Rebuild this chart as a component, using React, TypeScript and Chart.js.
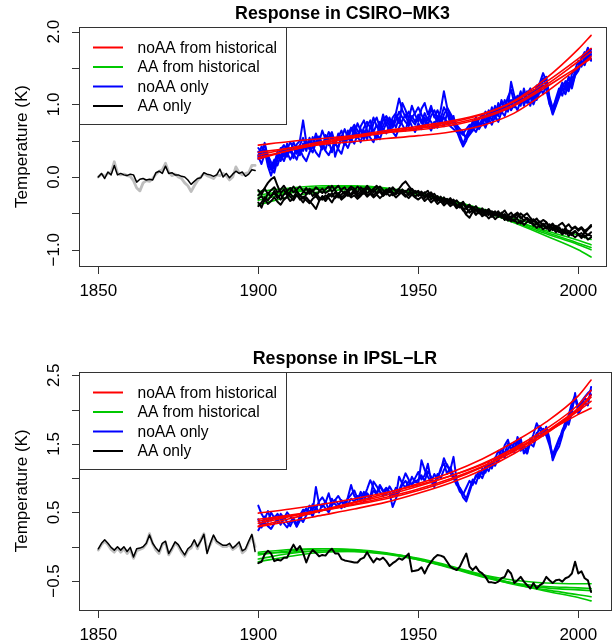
import React, { useEffect, useRef } from "react";
import { Chart, registerables } from "chart.js";
Chart.register(...registerables);

const FONT = "'Liberation Sans', Arial, Helvetica, sans-serif";
const MINUS = "\u2212";

const SMOOTH_YEARS = [1900, 1910, 1920, 1930, 1940, 1950, 1960, 1970, 1980, 1990, 2000, 2004];
const X_TICKS = [1850, 1900, 1950, 2000];
const PRE_START = 1850;
const MODERN_START = 1900;

const LEGEND_LABELS = ["noAA from historical", "AA from historical", "noAA only", "AA only"];
const RED = "#FF0000";
const GREEN = "#00C800";
const BLUE = "#0000FF";
const BLACK = "#000000";
const GRAY = "#BEBEBE";
const LEGEND_COLORS = [RED, GREEN, BLUE, BLACK];

// ---------------- Top panel: CSIRO-MK3 ----------------
const TOP_TITLE = "Response in CSIRO" + MINUS + "MK3";
const TOP_Y_TICKS = [-1, -0.5, 0, 0.5, 1, 1.5, 2];
const TOP_Y_LABELS = [-1, 0, 1, 2];

const TOP_PRE_BLACK = [0.00, 0.05, -0.02, 0.07, 0.03, 0.16, 0.03, 0.05, 0.03, 0.02,
  0.04, 0.03, -0.07, -0.03, -0.02, -0.04, -0.03, -0.04, 0.06, 0.08,
  0.05, 0.15, 0.05, 0.06, 0.03, 0.03, 0.01, 0.00, -0.04, -0.10,
  -0.06, -0.02, -0.01, 0.06, 0.04, 0.03, 0.01, 0.03, 0.11, 0.00,
  0.05, -0.01, 0.04, 0.08, 0.05, 0.07, 0.01, 0.04, 0.10, 0.09];
const TOP_PRE_GRAY = [0.00, 0.04, 0.01, 0.05, 0.06, 0.21, 0.05, 0.03, 0.04, 0.02,
  0.01, -0.05, -0.15, -0.19, -0.08, -0.05, -0.06, -0.02, 0.04, 0.08,
  0.10, 0.19, 0.07, 0.02, 0.04, 0.00, -0.02, -0.08, -0.12, -0.20,
  -0.12, -0.05, 0.00, 0.05, 0.02, 0.00, -0.02, 0.03, 0.02, 0.05,
  0.02, -0.04, 0.00, 0.14, 0.06, 0.03, 0.05, 0.06, 0.16, 0.16];

const TOP_RED_1 = [0.44, 0.49, 0.53, 0.57, 0.61, 0.65, 0.71, 0.81, 0.98, 1.24, 1.52, 1.63];
const TOP_RED_2 = [0.25, 0.37, 0.47, 0.55, 0.62, 0.68, 0.75, 0.86, 1.05, 1.36, 1.76, 1.95];
const TOP_RED_3 = [0.30, 0.40, 0.49, 0.57, 0.64, 0.70, 0.77, 0.87, 1.04, 1.31, 1.63, 1.77];
const TOP_RED_4 = [0.27, 0.37, 0.46, 0.54, 0.61, 0.67, 0.73, 0.83, 1.00, 1.27, 1.59, 1.72];
const TOP_RED_5 = [0.34, 0.40, 0.45, 0.49, 0.53, 0.57, 0.62, 0.71, 0.88, 1.17, 1.51, 1.66];

const TOP_GREEN_1 = [-0.20, -0.15, -0.12, -0.12, -0.15, -0.22, -0.32, -0.44, -0.57, -0.69, -0.80, -0.86];
const TOP_GREEN_2 = [-0.25, -0.18, -0.14, -0.13, -0.16, -0.23, -0.33, -0.46, -0.60, -0.74, -0.87, -0.93];
const TOP_GREEN_3 = [-0.28, -0.20, -0.15, -0.14, -0.17, -0.24, -0.34, -0.47, -0.62, -0.78, -0.93, -1.00];
const TOP_GREEN_4 = [-0.32, -0.22, -0.16, -0.14, -0.16, -0.22, -0.32, -0.46, -0.63, -0.81, -1.00, -1.10];
const TOP_GREEN_5 = [-0.38, -0.27, -0.20, -0.17, -0.18, -0.23, -0.32, -0.45, -0.60, -0.76, -0.91, -0.97];

const TOP_BLUE_1 = [0.30, 0.42, 0.36, 0.15, 0.02, 0.18, 0.35, 0.28, 0.40, 0.33,
  0.38, 0.26, 0.45, 0.50, 0.78, 0.48, 0.38, 0.55, 0.44, 0.52,
  0.40, 0.58, 0.50, 0.34, 0.47, 0.55, 0.64, 0.50, 0.58, 0.68,
  0.58, 0.74, 0.64, 0.54, 0.70, 0.78, 0.62, 0.72, 0.60, 0.70,
  0.80, 0.70, 0.82, 0.88, 1.08, 0.92, 0.82, 0.90, 0.78, 0.72,
  0.84, 0.74, 0.88, 0.78, 0.94, 0.84, 0.76, 0.92, 1.18, 0.96,
  0.88, 0.80, 0.70, 0.58, 0.46, 0.56, 0.68, 0.76, 0.68, 0.80,
  0.86, 0.76, 0.92, 0.84, 0.98, 0.88, 1.04, 0.93, 1.10, 1.20,
  1.02, 1.12, 0.98, 1.22, 1.06, 1.16, 1.03, 1.22, 1.30, 1.43,
  1.32, 1.05, 0.88, 1.00, 1.18, 1.30, 1.20, 1.38, 1.28, 1.46,
  1.52, 1.64, 1.72, 1.64, 1.76];
const TOP_BLUE_2 = [0.25, 0.34, 0.47, 0.26, 0.12, 0.06, 0.24, 0.40, 0.28, 0.46,
  0.34, 0.48, 0.38, 0.30, 0.46, 0.36, 0.54, 0.44, 0.60, 0.48,
  0.64, 0.52, 0.44, 0.60, 0.28, 0.42, 0.54, 0.66, 0.54, 0.48,
  0.64, 0.54, 0.70, 0.78, 0.64, 0.58, 0.74, 0.82, 0.68, 0.86,
  0.72, 0.82, 0.70, 0.86, 0.74, 1.02, 0.92, 0.80, 0.98, 0.86,
  0.76, 0.94, 1.02, 0.86, 0.98, 0.82, 0.92, 0.80, 0.96, 0.88,
  0.74, 0.84, 0.64, 0.52, 0.42, 0.50, 0.64, 0.72, 0.82, 0.72,
  0.80, 0.90, 0.80, 0.96, 0.84, 1.02, 0.90, 1.06, 0.96, 1.31,
  1.12, 1.04, 1.18, 0.98, 1.14, 1.22, 1.08, 1.26, 1.16, 1.34,
  1.38, 1.10, 0.95, 1.06, 1.14, 1.24, 1.32, 1.22, 1.42, 1.48,
  1.60, 1.52, 1.66, 1.78, 1.68];
const TOP_BLUE_3 = [0.35, 0.26, 0.38, 0.20, 0.10, 0.20, 0.30, 0.22, 0.36, 0.28,
  0.40, 0.30, 0.36, 0.44, 0.36, 0.50, 0.40, 0.34, 0.48, 0.56,
  0.46, 0.38, 0.55, 0.62, 0.46, 0.40, 0.57, 0.48, 0.64, 0.52,
  0.68, 0.56, 0.48, 0.64, 0.52, 0.70, 0.60, 0.52, 0.76, 0.64,
  0.74, 0.62, 0.78, 0.68, 0.82, 0.72, 0.64, 0.80, 0.70, 0.62,
  0.74, 0.66, 0.82, 0.72, 0.64, 0.76, 0.68, 0.82, 0.70, 0.88,
  0.80, 0.72, 0.66, 0.62, 0.60, 0.66, 0.72, 0.64, 0.78, 0.68,
  0.78, 0.70, 0.86, 0.78, 0.94, 0.84, 1.06, 0.96, 0.90, 1.06,
  0.96, 1.08, 1.14, 1.00, 1.10, 0.98, 1.16, 1.06, 1.18, 1.26,
  1.20, 1.00, 0.92, 1.08, 1.22, 1.12, 1.28, 1.36, 1.26, 1.40,
  1.46, 1.58, 1.60, 1.74, 1.62];
const TOP_BLUE_4 = [0.28, 0.18, 0.32, 0.24, 0.14, 0.24, 0.16, 0.30, 0.22, 0.34,
  0.24, 0.32, 0.24, 0.38, 0.28, 0.22, 0.34, 0.42, 0.34, 0.28,
  0.44, 0.36, 0.30, 0.40, 0.48, 0.38, 0.32, 0.48, 0.40, 0.52,
  0.46, 0.58, 0.66, 0.52, 0.62, 0.54, 0.48, 0.60, 0.52, 0.66,
  0.60, 0.70, 0.62, 0.56, 0.68, 0.78, 0.86, 0.72, 0.84, 0.76,
  0.86, 0.78, 0.70, 0.82, 0.76, 0.68, 0.84, 0.74, 0.82, 0.76,
  0.70, 0.66, 0.62, 0.62, 0.58, 0.56, 0.60, 0.68, 0.62, 0.72,
  0.76, 0.68, 0.80, 0.72, 0.84, 0.76, 0.90, 0.84, 1.00, 0.92,
  1.00, 0.92, 1.06, 1.14, 1.02, 1.10, 1.00, 1.12, 1.24, 1.14,
  1.28, 1.02, 0.86, 0.98, 1.10, 1.22, 1.14, 1.30, 1.22, 1.40,
  1.50, 1.58, 1.54, 1.68, 1.60];
const TOP_BLUE_5 = [0.40, 0.34, 0.44, 0.30, 0.20, 0.12, 0.28, 0.38, 0.44, 0.38,
  0.48, 0.40, 0.32, 0.44, 0.54, 0.40, 0.50, 0.42, 0.56, 0.46,
  0.38, 0.50, 0.62, 0.54, 0.44, 0.60, 0.52, 0.44, 0.54, 0.64,
  0.72, 0.64, 0.56, 0.68, 0.76, 0.68, 0.82, 0.70, 0.64, 0.78,
  0.84, 0.76, 0.68, 0.78, 0.90, 0.82, 0.76, 0.70, 0.82, 0.88,
  0.96, 0.86, 0.76, 0.72, 0.84, 0.92, 0.82, 0.74, 0.86, 0.94,
  0.84, 0.76, 0.72, 0.66, 0.62, 0.52, 0.58, 0.64, 0.74, 0.66,
  0.74, 0.84, 0.76, 0.90, 0.80, 0.96, 0.88, 0.98, 1.08, 1.00,
  1.10, 1.02, 1.12, 1.06, 1.18, 1.10, 1.20, 1.12, 1.28, 1.36,
  1.24, 1.08, 0.90, 1.04, 1.12, 1.20, 1.24, 1.18, 1.36, 1.42,
  1.48, 1.62, 1.68, 1.62, 1.72];

const TOP_BLACK_1 = [-0.18, -0.24, -0.15, -0.08, -0.03, 0.00, -0.12, -0.22, -0.17, -0.25,
  -0.20, -0.13, -0.19, -0.26, -0.21, -0.15, -0.23, -0.18, -0.27, -0.20,
  -0.16, -0.22, -0.19, -0.12, -0.18, -0.25, -0.17, -0.14, -0.21, -0.16,
  -0.19, -0.13, -0.18, -0.23, -0.15, -0.20, -0.16, -0.12, -0.19, -0.22,
  -0.17, -0.21, -0.14, -0.19, -0.16, -0.10, -0.06, -0.12, -0.18, -0.22,
  -0.19, -0.25, -0.21, -0.28, -0.24, -0.30, -0.26, -0.33, -0.29, -0.35,
  -0.31, -0.37, -0.40, -0.36, -0.43, -0.50, -0.45, -0.41, -0.47, -0.44,
  -0.49, -0.45, -0.52, -0.47, -0.53, -0.50, -0.56, -0.51, -0.58, -0.54,
  -0.52, -0.49, -0.55, -0.60, -0.57, -0.63, -0.59, -0.65, -0.61, -0.67,
  -0.63, -0.70, -0.66, -0.73, -0.69, -0.75, -0.70, -0.77, -0.72, -0.69,
  -0.74, -0.70, -0.77, -0.72, -0.68];
const TOP_BLACK_2 = [-0.30, -0.26, -0.33, -0.22, -0.27, -0.19, -0.25, -0.31, -0.24, -0.20,
  -0.27, -0.32, -0.25, -0.29, -0.35, -0.28, -0.33, -0.38, -0.44, -0.33,
  -0.26, -0.30, -0.23, -0.27, -0.21, -0.28, -0.24, -0.20, -0.26, -0.23,
  -0.18, -0.24, -0.20, -0.16, -0.22, -0.19, -0.25, -0.21, -0.17, -0.23,
  -0.20, -0.15, -0.21, -0.24, -0.18, -0.22, -0.19, -0.25, -0.21, -0.27,
  -0.24, -0.20, -0.27, -0.23, -0.31, -0.27, -0.33, -0.28, -0.36, -0.32,
  -0.37, -0.34, -0.41, -0.38, -0.45, -0.52, -0.56, -0.48, -0.44, -0.50,
  -0.46, -0.53, -0.49, -0.55, -0.51, -0.47, -0.54, -0.58, -0.52, -0.57,
  -0.61, -0.55, -0.50, -0.54, -0.59, -0.63, -0.58, -0.62, -0.68, -0.64,
  -0.69, -0.65, -0.71, -0.67, -0.74, -0.78, -0.72, -0.76, -0.80, -0.75,
  -0.78, -0.82, -0.76, -0.80, -0.76];
const TOP_BLACK_3 = [-0.40, -0.35, -0.28, -0.32, -0.26, -0.22, -0.29, -0.24, -0.31, -0.27,
  -0.23, -0.28, -0.20, -0.25, -0.30, -0.24, -0.19, -0.26, -0.22, -0.28,
  -0.31, -0.25, -0.29, -0.35, -0.27, -0.22, -0.28, -0.24, -0.19, -0.25,
  -0.21, -0.27, -0.23, -0.18, -0.25, -0.22, -0.17, -0.23, -0.20, -0.26,
  -0.22, -0.18, -0.25, -0.21, -0.17, -0.23, -0.27, -0.22, -0.16, -0.21,
  -0.26, -0.22, -0.29, -0.25, -0.21, -0.28, -0.32, -0.27, -0.34, -0.30,
  -0.35, -0.31, -0.38, -0.42, -0.36, -0.44, -0.40, -0.46, -0.52, -0.47,
  -0.43, -0.50, -0.46, -0.52, -0.58, -0.54, -0.49, -0.55, -0.60, -0.57,
  -0.53, -0.58, -0.64, -0.60, -0.56, -0.61, -0.67, -0.63, -0.69, -0.66,
  -0.71, -0.67, -0.73, -0.70, -0.76, -0.72, -0.78, -0.74, -0.79, -0.83,
  -0.79, -0.84, -0.80, -0.86, -0.83];
const TOP_BLACK_4 = [-0.25, -0.20, -0.16, -0.23, -0.18, -0.14, -0.21, -0.17, -0.12, -0.19,
  -0.15, -0.21, -0.17, -0.13, -0.19, -0.23, -0.16, -0.20, -0.14, -0.18,
  -0.22, -0.17, -0.13, -0.20, -0.16, -0.12, -0.19, -0.23, -0.17, -0.13,
  -0.16, -0.21, -0.14, -0.18, -0.12, -0.17, -0.21, -0.16, -0.13, -0.18,
  -0.24, -0.19, -0.15, -0.20, -0.23, -0.17, -0.21, -0.16, -0.24, -0.19,
  -0.21, -0.26, -0.22, -0.19, -0.27, -0.23, -0.29, -0.34, -0.28, -0.33,
  -0.29, -0.35, -0.32, -0.38, -0.34, -0.41, -0.38, -0.44, -0.40, -0.46,
  -0.52, -0.48, -0.44, -0.50, -0.47, -0.54, -0.50, -0.46, -0.53, -0.49,
  -0.55, -0.51, -0.57, -0.53, -0.50, -0.56, -0.61, -0.57, -0.63, -0.59,
  -0.62, -0.68, -0.64, -0.70, -0.66, -0.63, -0.69, -0.65, -0.71, -0.68,
  -0.72, -0.69, -0.74, -0.71, -0.66];
const TOP_BLACK_5 = [-0.35, -0.42, -0.30, -0.37, -0.33, -0.28, -0.34, -0.38, -0.31, -0.27,
  -0.33, -0.29, -0.24, -0.31, -0.27, -0.32, -0.36, -0.30, -0.26, -0.32,
  -0.28, -0.33, -0.27, -0.22, -0.29, -0.25, -0.31, -0.27, -0.23, -0.28,
  -0.25, -0.30, -0.26, -0.21, -0.27, -0.23, -0.28, -0.24, -0.29, -0.25,
  -0.21, -0.26, -0.23, -0.28, -0.24, -0.20, -0.25, -0.29, -0.24, -0.28,
  -0.31, -0.27, -0.33, -0.29, -0.35, -0.31, -0.37, -0.33, -0.39, -0.35,
  -0.40, -0.37, -0.43, -0.39, -0.46, -0.42, -0.49, -0.45, -0.51, -0.48,
  -0.54, -0.51, -0.57, -0.53, -0.49, -0.55, -0.52, -0.59, -0.55, -0.61,
  -0.58, -0.64, -0.60, -0.66, -0.62, -0.58, -0.65, -0.70, -0.66, -0.72,
  -0.68, -0.74, -0.70, -0.76, -0.73, -0.79, -0.75, -0.81, -0.77, -0.74,
  -0.80, -0.77, -0.83, -0.79, -0.81];

// ---------------- Bottom panel: IPSL-LR ----------------
const BOT_TITLE = "Response in IPSL" + MINUS + "LR";
const BOT_Y_TICKS = [-0.5, 0, 0.5, 1, 1.5, 2, 2.5];
const BOT_Y_LABELS = [-0.5, 0.5, 1.5, 2.5];

const BOT_PRE_BLACK = [-0.03, 0.05, 0.10, 0.05, -0.01, -0.05, 0.00, -0.05, 0.00, -0.07,
  -0.01, -0.15, -0.03, -0.02, 0.00, 0.05, 0.17, 0.05, -0.02, -0.07,
  0.05, 0.08, -0.10, -0.02, 0.07, 0.03, -0.05, -0.12, -0.03, 0.01,
  0.10, 0.00, 0.08, 0.18, -0.10, 0.05, 0.17, 0.08, 0.05, 0.02,
  0.02, 0.05, -0.02, 0.02, 0.07, -0.06, -0.03, 0.08, 0.18, -0.07];
const BOT_PRE_GRAY = [-0.05, 0.03, 0.08, 0.03, -0.04, -0.08, -0.02, -0.08, -0.03, -0.10,
  -0.04, -0.17, -0.06, -0.04, -0.02, 0.04, 0.19, 0.04, -0.05, -0.10,
  0.03, 0.06, -0.12, -0.04, 0.05, 0.01, -0.08, -0.14, -0.05, -0.02,
  0.08, -0.03, 0.10, 0.19, -0.06, 0.03, 0.15, 0.06, 0.03, 0.00,
  0.00, 0.03, -0.04, -0.01, 0.04, -0.09, -0.05, 0.06, 0.16, 0.00];

const BOT_RED_1 = [0.49, 0.55, 0.62, 0.70, 0.79, 0.90, 1.03, 1.20, 1.42, 1.67, 1.93, 2.02];
const BOT_RED_2 = [0.30, 0.41, 0.53, 0.65, 0.78, 0.92, 1.08, 1.28, 1.53, 1.82, 2.20, 2.43];
const BOT_RED_3 = [0.34, 0.44, 0.54, 0.64, 0.75, 0.88, 1.03, 1.21, 1.44, 1.72, 2.07, 2.28];
const BOT_RED_4 = [0.37, 0.45, 0.53, 0.62, 0.72, 0.84, 0.99, 1.17, 1.40, 1.68, 2.02, 2.21];
const BOT_RED_5 = [0.29, 0.37, 0.46, 0.55, 0.65, 0.78, 0.93, 1.12, 1.36, 1.65, 1.98, 2.12];
const BOT_RED_6 = [0.40, 0.46, 0.53, 0.61, 0.70, 0.82, 0.97, 1.16, 1.39, 1.67, 2.00, 2.18];

const BOT_GREEN_1 = [-0.08, -0.04, -0.03, -0.05, -0.10, -0.19, -0.30, -0.41, -0.49, -0.53, -0.54, -0.54];
const BOT_GREEN_2 = [-0.12, -0.06, -0.03, -0.04, -0.09, -0.18, -0.30, -0.43, -0.53, -0.58, -0.60, -0.61];
const BOT_GREEN_3 = [-0.18, -0.10, -0.06, -0.06, -0.10, -0.18, -0.30, -0.43, -0.55, -0.63, -0.70, -0.73];
const BOT_GREEN_4 = [-0.22, -0.14, -0.08, -0.07, -0.10, -0.17, -0.28, -0.41, -0.54, -0.65, -0.74, -0.79];
const BOT_GREEN_5 = [-0.10, -0.08, -0.06, -0.07, -0.11, -0.19, -0.31, -0.44, -0.54, -0.60, -0.63, -0.64];

const BOT_BLUE_1 = [0.60, 0.48, 0.40, 0.52, 0.38, 0.44, 0.36, 0.48, 0.42, 0.50,
  0.44, 0.38, 0.30, 0.46, 0.54, 0.48, 0.60, 0.52, 0.87, 0.62,
  0.58, 0.66, 0.54, 0.70, 0.62, 0.58, 0.68, 0.60, 0.72, 0.90,
  0.74, 0.68, 0.80, 0.72, 0.84, 0.97, 0.86, 0.78, 0.90, 0.82,
  0.76, 0.88, 0.80, 0.74, 1.02, 0.92, 0.86, 0.96, 0.90, 1.00,
  1.09, 0.98, 1.04, 1.21, 0.96, 0.87, 1.02, 1.10, 1.29, 1.18,
  1.12, 1.31, 0.97, 0.84, 0.72, 0.66, 0.80, 0.94, 1.02, 1.10,
  1.06, 1.17, 1.10, 1.24, 1.18, 1.30, 1.42, 1.36, 1.50, 1.44,
  1.38, 1.60, 1.48, 1.40, 1.36, 1.52, 1.64, 1.80, 1.70, 1.62,
  1.75, 1.58, 1.26, 1.38, 1.46, 1.62, 1.85, 1.78, 1.96, 2.24,
  1.94, 2.02, 2.10, 2.06, 2.33];
const BOT_BLUE_2 = [0.24, 0.32, 0.44, 0.36, 0.50, 0.42, 0.48, 0.40, 0.34, 0.28,
  0.36, 0.42, 0.29, 0.38, 0.50, 0.56, 0.48, 0.62, 0.55, 0.66,
  0.72, 0.64, 0.78, 0.60, 0.68, 0.74, 0.66, 0.58, 0.70, 0.76,
  0.82, 0.70, 0.76, 0.66, 0.78, 0.72, 0.95, 0.88, 0.80, 0.74,
  0.84, 0.78, 0.58, 0.70, 0.82, 0.94, 1.07, 0.98, 0.90, 0.96,
  0.92, 1.26, 1.12, 1.02, 0.94, 1.06, 0.98, 1.14, 1.22, 1.06,
  1.16, 1.04, 0.92, 0.80, 0.76, 0.86, 0.96, 0.90, 1.04, 1.00,
  1.14, 1.08, 1.22, 1.16, 1.28, 1.40, 1.32, 1.48, 1.56, 1.40,
  1.52, 1.46, 1.58, 1.36, 1.44, 1.50, 1.46, 1.62, 1.76, 1.68,
  1.62, 1.48, 1.30, 1.42, 1.54, 1.70, 1.80, 1.92, 2.10, 2.20,
  2.04, 2.12, 2.18, 2.24, 2.28];
const BOT_BLUE_3 = [0.40, 0.28, 0.36, 0.30, 0.26, 0.34, 0.40, 0.32, 0.44, 0.36,
  0.30, 0.40, 0.34, 0.42, 0.36, 0.46, 0.52, 0.44, 0.58, 0.50,
  0.62, 0.56, 0.50, 0.60, 0.68, 0.62, 0.56, 0.66, 0.62, 0.70,
  0.66, 0.74, 0.68, 0.80, 0.74, 0.70, 0.82, 0.76, 0.88, 0.80,
  0.86, 0.80, 0.74, 0.86, 0.80, 0.90, 0.96, 0.88, 1.02, 0.94,
  0.98, 1.04, 0.96, 1.10, 1.02, 0.90, 1.06, 1.00, 1.12, 1.20,
  1.08, 1.00, 0.90, 0.86, 0.78, 0.70, 0.84, 0.98, 0.92, 1.06,
  1.00, 1.12, 1.20, 1.14, 1.30, 1.24, 1.36, 1.30, 1.42, 1.50,
  1.44, 1.54, 1.40, 1.48, 1.36, 1.58, 1.52, 1.66, 1.60, 1.72,
  1.68, 1.52, 1.34, 1.46, 1.58, 1.66, 1.74, 1.86, 2.04, 2.16,
  2.00, 2.08, 2.16, 2.14, 2.22];

const BOT_BLACK_1 = [-0.24, -0.22, -0.11, -0.06, -0.10, -0.21, -0.19, -0.20, -0.16, -0.16,
  -0.06, 0.03, -0.05, 0.01, -0.09, -0.23, -0.11, -0.05, -0.09, -0.14,
  -0.12, -0.13, -0.07, -0.03, -0.10, -0.10, -0.18, -0.20, -0.21, -0.22,
  -0.23, -0.23, -0.18, -0.16, -0.08, -0.16, -0.23, -0.17, -0.19, -0.16,
  -0.21, -0.28, -0.24, -0.21, -0.17, -0.19, -0.15, -0.10, -0.36, -0.35,
  -0.34, -0.30, -0.39, -0.29, -0.22, -0.16, -0.12, -0.13, -0.15, -0.22,
  -0.29, -0.32, -0.34, -0.29, -0.19, -0.10, -0.29, -0.34, -0.29, -0.36,
  -0.39, -0.44, -0.52, -0.52, -0.53, -0.51, -0.46, -0.44, -0.34, -0.39,
  -0.53, -0.49, -0.44, -0.51, -0.56, -0.61, -0.53, -0.61, -0.56, -0.53,
  -0.44, -0.49, -0.53, -0.49, -0.48, -0.51, -0.46, -0.44, -0.39, -0.22,
  -0.39, -0.36, -0.46, -0.49, -0.66];

// ---------------- helpers ----------------
const yearly = (start: number, vals: number[]) => vals.map((v, i) => ({ x: start + i, y: v }));
const smooth = (vals: number[]) => vals.map((v, i) => ({ x: SMOOTH_YEARS[i], y: v }));
const fmt = (v: number) => v.toFixed(1).replace("-", MINUS);

type PanelDef = {
  title: string;
  height: number;
  padTop: number;
  padRight: number;
  xAxisH: number;
  xMin: number;
  xMax: number;
  yMin: number;
  yMax: number;
  yTicks: number[];
  yLabels: number[];
  preGray: number[];
  preBlack: number[];
  blue: number[][];
  red: number[][];
  green: number[][];
  black: number[][];
};

const PANELS: PanelDef[] = [
  {
    title: TOP_TITLE, height: 321, padTop: 27, padRight: 6, xAxisH: 55,
    xMin: 1843.97, xMax: 2008.66, yMin: -1.224, yMax: 2.065,
    yTicks: TOP_Y_TICKS, yLabels: TOP_Y_LABELS,
    preGray: TOP_PRE_GRAY, preBlack: TOP_PRE_BLACK,
    blue: [TOP_BLUE_1, TOP_BLUE_2, TOP_BLUE_3, TOP_BLUE_4, TOP_BLUE_5],
    red: [TOP_RED_1, TOP_RED_2, TOP_RED_3, TOP_RED_4, TOP_RED_5],
    green: [TOP_GREEN_1, TOP_GREEN_2, TOP_GREEN_3, TOP_GREEN_4, TOP_GREEN_5],
    black: [TOP_BLACK_1, TOP_BLACK_2, TOP_BLACK_3, TOP_BLACK_4, TOP_BLACK_5],
  },
  {
    title: BOT_TITLE, height: 322, padTop: 50.7, padRight: 1.2, xAxisH: 33,
    xMin: 1843.97, xMax: 2010.16, yMin: -0.923, yMax: 2.552,
    yTicks: BOT_Y_TICKS, yLabels: BOT_Y_LABELS,
    preGray: BOT_PRE_GRAY, preBlack: BOT_PRE_BLACK,
    blue: [BOT_BLUE_1, BOT_BLUE_2, BOT_BLUE_3],
    red: [BOT_RED_1, BOT_RED_2, BOT_RED_3, BOT_RED_4, BOT_RED_5, BOT_RED_6],
    green: [BOT_GREEN_1, BOT_GREEN_2, BOT_GREEN_3, BOT_GREEN_4, BOT_GREEN_5],
    black: [BOT_BLACK_1],
  },
];

function lineDs(data: any[], color: string, width: number, order: number, curved: boolean) {
  return {
    data,
    borderColor: color,
    backgroundColor: color,
    borderWidth: width,
    pointRadius: 0,
    pointHoverRadius: 0,
    fill: false,
    order,
    tension: 0,
    cubicInterpolationMode: curved ? "monotone" : "default",
    borderJoinStyle: "round",
    borderCapStyle: "round",
  };
}

function buildDatasets(p: PanelDef) {
  const ds: any[] = [];
  ds.push(lineDs(yearly(PRE_START, p.preGray), GRAY, 2.8, 20, false));
  ds.push(lineDs(yearly(PRE_START, p.preBlack), BLACK, 1.5, 19, false));
  p.blue.forEach((v) => ds.push(lineDs(yearly(MODERN_START, v), BLUE, 2, 15, false)));
  p.red.forEach((v) => ds.push(lineDs(smooth(v), RED, 1.6, 12, true)));
  p.green.forEach((v) => ds.push(lineDs(smooth(v), GREEN, 1.6, 10, true)));
  p.black.forEach((v) => ds.push(lineDs(yearly(MODERN_START, v), BLACK, 2, 5, false)));
  return ds;
}

function makeDecor(p: PanelDef) {
  return {
    id: "decor",
    afterDraw(chart: any) {
      const { ctx, chartArea: ca, scales } = chart;
      const xs = scales.x;
      const ys = scales.y;
      const L = Math.round(ca.left);
      const R = Math.round(ca.right);
      const T = Math.round(ca.top);
      const B = Math.round(ca.bottom);
      ctx.save();
      ctx.strokeStyle = "#333333";
      ctx.lineWidth = 1;
      // legend box (white background)
      const lgW = 207;
      const lgH = 97;
      ctx.fillStyle = "#FFFFFF";
      ctx.fillRect(L, T, lgW, lgH);
      ctx.strokeRect(L + 0.5, T + 0.5, lgW, lgH);
      // plot box
      ctx.strokeRect(L + 0.5, T + 0.5, R - L, B - T);
      // x ticks
      ctx.beginPath();
      X_TICKS.forEach((t) => {
        const x = Math.round(xs.getPixelForValue(t)) + 0.5;
        ctx.moveTo(x, B + 0.5);
        ctx.lineTo(x, B + 8);
      });
      // y ticks
      p.yTicks.forEach((t) => {
        const y = Math.round(ys.getPixelForValue(t)) + 0.5;
        ctx.moveTo(L + 0.5, y);
        ctx.lineTo(L - 7, y);
      });
      ctx.stroke();
      // x labels
      ctx.fillStyle = "#000000";
      ctx.font = `17px ${FONT}`;
      ctx.textAlign = "center";
      ctx.textBaseline = "alphabetic";
      X_TICKS.forEach((t) => {
        ctx.fillText(String(t), xs.getPixelForValue(t), B + 30);
      });
      // y labels (rotated)
      p.yLabels.forEach((t) => {
        ctx.save();
        ctx.translate(L - 20.5, ys.getPixelForValue(t));
        ctx.rotate(-Math.PI / 2);
        ctx.fillText(fmt(t), 0, 0);
        ctx.restore();
      });
      // y axis title
      ctx.save();
      ctx.translate(27, (ca.top + ca.bottom) / 2);
      ctx.rotate(-Math.PI / 2);
      ctx.fillText("Temperature (K)", 0, 0);
      ctx.restore();
      // chart title
      ctx.font = `bold 17.8px ${FONT}`;
      ctx.fillText(p.title, (ca.left + ca.right) / 2, T - 8);
      // legend entries
      ctx.font = `15.6px ${FONT}`;
      ctx.textAlign = "left";
      ctx.textBaseline = "middle";
      LEGEND_LABELS.forEach((lab, i) => {
        const y = T + 20.5 + i * 19.5;
        ctx.strokeStyle = LEGEND_COLORS[i];
        ctx.lineWidth = 2;
        ctx.beginPath();
        ctx.moveTo(L + 14, y);
        ctx.lineTo(L + 44, y);
        ctx.stroke();
        ctx.fillStyle = "#000000";
        ctx.fillText(lab, L + 58.5, y + 1);
      });
      ctx.restore();
    },
  };
}

function Panel({ p }: { p: PanelDef }) {
  const ref = useRef<HTMLCanvasElement | null>(null);
  useEffect(() => {
    if (!ref.current) return;
    const chart = new Chart(ref.current, {
      type: "line",
      data: { datasets: buildDatasets(p) },
      options: {
        animation: false,
        responsive: false,
        devicePixelRatio: 1,
        events: [],
        layout: { padding: { top: p.padTop, right: p.padRight, left: 0, bottom: 0 } },
        plugins: { legend: { display: false }, tooltip: { enabled: false }, title: { display: false } },
        scales: {
          x: {
            type: "linear",
            min: p.xMin,
            max: p.xMax,
            grid: { display: false },
            border: { display: false },
            ticks: { display: false },
            afterBuildTicks: (s: any) => { s.ticks = X_TICKS.map((v) => ({ value: v })); },
            afterFit: (s: any) => { s.height = p.xAxisH; },
          },
          y: {
            type: "linear",
            min: p.yMin,
            max: p.yMax,
            grid: { display: false },
            border: { display: false },
            ticks: { display: false },
            afterBuildTicks: (s: any) => { s.ticks = p.yTicks.map((v) => ({ value: v })); },
            afterFit: (s: any) => { s.width = 79; },
          },
        },
      } as any,
      plugins: [makeDecor(p)],
    } as any);
    return () => chart.destroy();
  }, [p]);
  return <canvas ref={ref} width={612} height={p.height} style={{ display: "block", width: 612, height: p.height }} />;
}

export default function App() {
  return (
    <div style={{ position: "absolute", left: 0, top: 0, width: 612, height: 643, background: "#FFFFFF" }}>
      {PANELS.map((p, i) => (
        <Panel key={i} p={p} />
      ))}
    </div>
  );
}
